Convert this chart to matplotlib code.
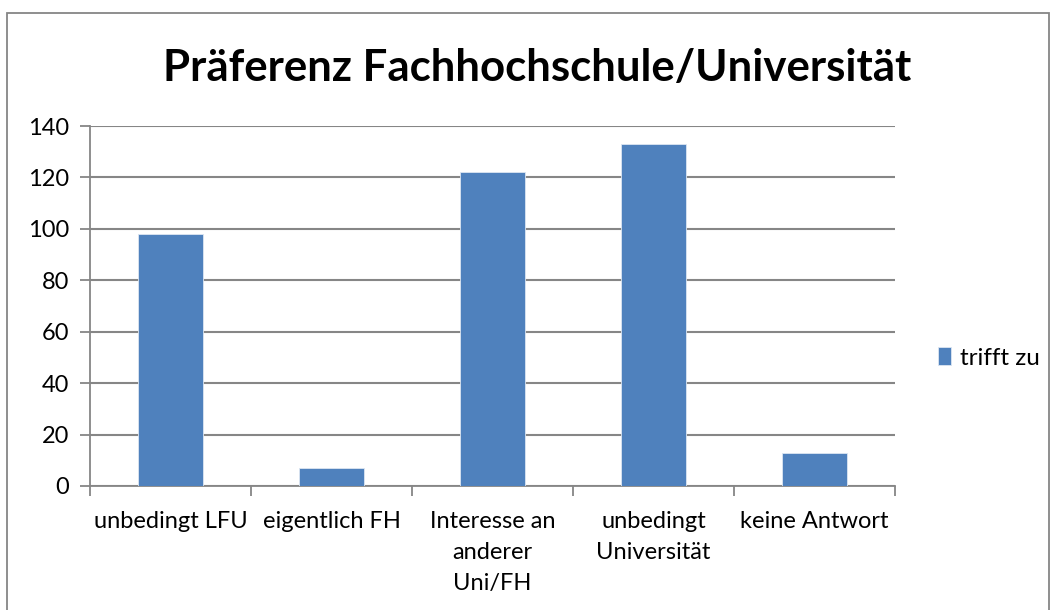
import matplotlib.pyplot as plt
from matplotlib.patches import Rectangle
import numpy as np

categories = ["unbedingt LFU", "eigentlich FH", "Interesse an\nanderer\nUni/FH",
              "unbedingt\nUniversität", "keine Antwort"]
values = [98, 7, 122, 133, 13]
series_name = "trifft zu"
title = "Präferenz Fachhochschule/Universität"

plt.rcParams['font.family'] = ['Lato', 'DejaVu Sans']

W, H = 1056, 610
fig = plt.figure(figsize=(W / 100, H / 100), dpi=100)
ax = fig.add_axes([90 / W, 1 - 486 / H, (895 - 90) / W, (486 - 126) / H])

x = np.arange(len(categories))
ax.bar(x, values, width=0.4, color="#4F81BD", edgecolor="#DCE6F2", linewidth=0.6,
       zorder=3, label=series_name)

ax.set_xlim(-0.5, len(categories) - 0.5)
ax.set_ylim(0, 140)
ax.set_yticks(range(0, 141, 20))
ax.yaxis.grid(True, color="#868686", linewidth=1.5, zorder=0)
ax.set_axisbelow(True)

ax.set_xticks(np.arange(-0.5, len(categories), 1.0))
ax.set_xticklabels([])
ax.set_xticks(x, minor=True)
ax.set_xticklabels(categories, minor=True, fontsize=17, linespacing=1.6, va="top")
ax.tick_params(axis="x", which="minor", length=0, pad=18)
ax.tick_params(axis="x", which="major", length=7, width=1.3, color="#868686", direction="out")
ax.tick_params(axis="y", length=7, width=1.3, color="#868686", labelsize=17, pad=8)

for s in ["top", "right"]:
    ax.spines[s].set_visible(False)
for s in ["left", "bottom"]:
    ax.spines[s].set_color("#868686")
    ax.spines[s].set_linewidth(1.3)

fig.text(537 / W, 1 - 68 / H, title, ha="center", va="center", fontsize=31.5, fontweight="bold")

ax.legend(loc="center left", bbox_to_anchor=(938 / W, 1 - 358 / H), bbox_transform=fig.transFigure,
          frameon=False, fontsize=17.5, handlelength=0.55, handleheight=0.75, handletextpad=0.35,
          borderpad=0, borderaxespad=0)

fig.patches.append(Rectangle((7 / W, -0.05), (1049 - 7) / W, 1 - 13 / H + 0.05,
                             transform=fig.transFigure, fill=False, edgecolor="#868686",
                             linewidth=1.3))

fig.savefig("out.png", dpi=100)
